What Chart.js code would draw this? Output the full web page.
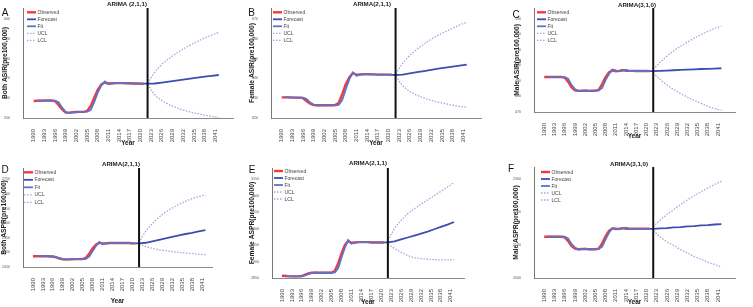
<!DOCTYPE html>
<html><head><meta charset="utf-8">
<script src="https://cdn.jsdelivr.net/npm/chart.js@4.4.1/dist/chart.umd.min.js"></script>
<style>
html,body{margin:0;padding:0;background:#fff;}
#wrap{position:relative;width:753px;height:307px;overflow:hidden;background:#fff;}
#wrap canvas{position:absolute;left:0;top:0;}
</style></head><body>
<div id="wrap">
<canvas id="cA" width="753" height="307"></canvas>
<canvas id="cB" width="753" height="307"></canvas>
<canvas id="cC" width="753" height="307"></canvas>
<canvas id="cD" width="753" height="307"></canvas>
<canvas id="cE" width="753" height="307"></canvas>
<canvas id="cF" width="753" height="307"></canvas>
</div>
<script>
// ---------- DATA ----------
const obsYears = [1990,1991,1992,1993,1994,1995,1996,1997,1998,1999,2000,2001,2002,2003,2004,2005,2006,2007,2008,2009,2010,2011,2012,2013,2014,2015,2016,2017,2018,2019,2020,2021];
const fitYears = [1991,1992,1993,1994,1995,1996,1997,1998,1999,2000,2001,2002,2003,2004,2005,2006,2007,2008,2009,2010,2011,2012,2013,2014,2015,2016,2017,2018,2019,2020,2021];
const fcYears = [2021,2022,2024,2026,2028,2030,2032,2034,2036,2038,2040,2042];
const bandYears = [2022,2024,2026,2028,2030,2032,2034,2036,2038,2040,2042];
const xTickYears = [1990,1993,1996,1999,2002,2005,2008,2011,2014,2017,2020,2023,2026,2029,2032,2035,2038,2041];
const splitYear = 2022;

// A: Both ASIR
const aTicks = [550,560,570,580,590,600];
const aObserved = [558.6,558.7,558.7,558.8,558.8,558.8,558.5,556.6,554.3,552.8,552.7,552.9,553.0,553.1,553.1,553.6,556.0,560.2,564.2,567.0,567.9,567.4,567.5,567.6,567.6,567.6,567.5,567.5,567.4,567.4,567.3,567.3];
const aFit = [558.8,558.7,558.8,558.8,558.8,558.8,558.0,555.2,553.0,552.5,552.8,553.0,553.1,553.1,553.2,554.0,558.0,562.8,566.5,568.4,567.0,567.3,567.6,567.6,567.6,567.5,567.5,567.4,567.4,567.3,567.3];
const aForecast = [567.3,567.3,567.4,567.9,568.4,568.9,569.4,569.9,570.4,570.9,571.3,571.7];
const aUCL = [567.6,573.0,577.0,580.0,582.5,584.8,586.8,588.6,590.3,591.8,593.2];
const aLCL = [567.0,561.8,558.8,556.8,555.3,554.0,553.0,552.2,551.5,550.8,550.2];

// B: Female ASIR
const bTicks = [620,630,640,650,660,670];
const bObserved = [630.4,630.4,630.4,630.3,630.3,630.3,630.0,628.6,627.2,626.5,626.4,626.4,626.4,626.4,626.4,626.5,627.5,632.0,637.0,640.5,642.7,641.8,642.0,642.1,642.1,642.0,642.0,641.9,641.9,641.9,641.9,641.8];
const bFit = [630.5,630.4,630.4,630.3,630.3,630.3,629.6,627.8,626.8,626.3,626.4,626.4,626.4,626.4,626.4,626.6,629.0,634.5,639.5,643.0,641.3,641.8,642.1,642.1,642.0,642.0,641.9,641.9,641.9,641.9,641.8];
const bForecast = [641.8,641.7,641.9,642.5,643.1,643.7,644.3,644.9,645.4,645.9,646.4,646.9];
const bUCL = [642.3,647.5,651.6,654.7,657.3,659.7,661.8,663.6,665.3,666.9,668.4];
const bLCL = [641.1,636.3,633.4,631.5,630.1,628.9,628.0,627.2,626.5,625.9,625.4];

// C: Male ASIR
const cTicks = [470,480,490,500,510,520,530];
const cObserved = [492.5,492.5,492.5,492.5,492.5,492.5,492.2,489.5,486.0,484.0,483.6,483.8,483.7,483.6,483.7,483.8,484.2,488.0,492.5,495.5,496.8,496.3,496.5,497.0,496.5,496.5,496.5,496.4,496.4,496.4,496.4,496.3];
const cFit = [492.6,492.5,492.5,492.5,492.5,492.5,491.5,487.5,484.8,483.5,483.6,483.9,483.7,483.6,483.7,483.9,485.5,490.5,494.5,497.3,496.8,496.2,496.6,497.2,496.4,496.5,496.4,496.4,496.4,496.4,496.3];
const cForecast = [496.3,496.3,496.5,496.7,496.9,497.1,497.3,497.5,497.7,497.8,498.0,498.2];
const cUCL = [497.3,502.0,505.9,509.3,512.3,515.0,517.5,519.8,521.9,523.8,525.4];
const cLCL = [495.3,491.0,487.5,484.5,481.9,479.6,477.5,475.6,473.7,472.2,471.0];

// D: Both ASPR
const dTicks = [2450,2500,2550,2600,2650,2700,2750];
const dObserved = [2487,2487,2487,2487,2487,2486,2486,2483,2479,2476,2476,2476,2477,2477,2477,2477,2482,2496,2514,2526,2533,2531,2531,2532,2532,2532,2532,2532,2532,2532,2531,2531];
const dFit = [2488,2487,2487,2487,2487,2486,2485,2480,2477,2475,2476,2476,2477,2477,2477,2478,2486,2505,2522,2536,2528,2530,2532,2532,2532,2532,2532,2532,2532,2531,2531];
const dForecast = [2531,2531,2533,2538,2543,2548,2553,2558,2563,2567,2572,2576];
const dUCL = [2534,2572,2598,2620,2638,2652,2664,2675,2684,2691,2697];
const dLCL = [2528,2520,2514,2509,2506,2503,2500,2498,2496,2494,2492];

// E: Female ASPR
const eTicks = [2850,2900,2950,3000,3050,3100,3150];
const eObserved = [2857,2856,2855,2855,2855,2855,2856,2860,2864,2866,2866,2866,2866,2866,2866,2866,2872,2895,2925,2950,2962,2957,2958,2959,2959,2959,2959,2958,2958,2958,2958,2958];
const eFit = [2858,2856,2855,2855,2855,2855,2858,2862,2865,2867,2866,2866,2866,2866,2866,2867,2880,2912,2942,2965,2954,2957,2959,2959,2959,2959,2958,2958,2958,2958,2958];
const eForecast = [2958,2958,2961,2967,2973,2979,2985,2991,2998,3005,3012,3020];
const eUCL = [2963,3000,3025,3045,3060,3074,3087,3100,3113,3126,3140];
const eLCL = [2953,2940,2928,2918,2912,2909,2907,2906,2905,2905,2905];

// F: Male ASPR
const fTicks = [2000,2100,2200,2300];
const fObserved = [2125,2125,2125,2125,2125,2125,2123,2112,2097,2089,2087,2088,2088,2087,2087,2087,2089,2105,2126,2143,2150,2148,2149,2151,2149,2149,2149,2149,2149,2149,2149,2149];
const fFit = [2126,2125,2125,2125,2125,2125,2120,2103,2092,2086,2087,2089,2087,2087,2087,2088,2095,2117,2137,2151,2150,2147,2150,2152,2149,2149,2149,2149,2149,2149,2149];
const fForecast = [2149,2149,2150,2151,2153,2154,2156,2157,2159,2160,2162,2163];
const fUCL = [2155,2175,2192,2207,2222,2236,2249,2261,2272,2283,2293];
const fLCL = [2143,2125,2110,2099,2086,2076,2065,2057,2048,2041,2033];

// ---------- STYLE / LAYOUT ----------
const FONT = "'Liberation Sans', Arial, sans-serif";
const C_OBS = '#f23a3a', C_FC = '#3b4fb3', C_FIT = '#5a74cc', C_CL = '#b99be0';

const panels = [
  {id:'cA', letter:'A', title:'ARIMA (2,1,1)', ytitle:'Both ASIR(pre100,000)', obs:aObserved, fit:aFit, fc:aForecast, ucl:aUCL, lcl:aLCL, yticks:aTicks,
   ymin:550, ymax:605.5, xmax:2046, L:23, R:233, T:8, B:118, yTitleX:5, xH:28.9, titleX:127, titleY:4.5, letterX:5, letterY:13, legX:27, legY:12.3, legDy:7},
  {id:'cB', letter:'B', title:'ARIMA(2,1,1)', ytitle:'Female ASIR(pre100,000)', obs:bObserved, fit:bFit, fc:bForecast, ucl:bUCL, lcl:bLCL, yticks:bTicks,
   ymin:620, ymax:675.5, xmax:2046, L:271, R:481, T:8, B:118, yTitleX:252, xH:29.2, titleX:372, titleY:4.5, letterX:251.5, letterY:13, legX:273, legY:12.3, legDy:7},
  {id:'cC', letter:'C', title:'ARIMA(3,1,0)', ytitle:'Male ASIR(pre100,000)', obs:cObserved, fit:cFit, fc:cForecast, ucl:cUCL, lcl:cLCL, yticks:cTicks,
   ymin:470, ymax:537, xmax:2046, L:534, R:735, T:8, B:112, yTitleX:517, xH:28.6, titleX:637, titleY:5, letterX:516, letterY:15, legX:537, legY:12.3, legDy:7},
  {id:'cD', letter:'D', title:'ARIMA(2,1,1)', ytitle:'Both ASPR(pre100,000)', obs:dObserved, fit:dFit, fc:dForecast, ucl:dUCL, lcl:dLCL, yticks:dTicks,
   ymin:2450, ymax:2789, xmax:2044, L:23, R:212, T:168, B:267, yTitleX:4.5, xH:37.9, titleX:121, titleY:164, letterX:5, letterY:170, legX:24, legY:172.3, legDy:7.5},
  {id:'cE', letter:'E', title:'ARIMA(2,1,1)', ytitle:'Female ASPR(pre100,000)', obs:eObserved, fit:eFit, fc:eForecast, ucl:eUCL, lcl:eLCL, yticks:eTicks,
   ymin:2850, ymax:3184, xmax:2045, L:272, R:464, T:168, B:278, yTitleX:252, xH:28.6, titleX:368, titleY:163.5, letterX:252, letterY:170, legX:274, legY:171, legDy:7},
  {id:'cF', letter:'F', title:'ARIMA(3,1,0)', ytitle:'Male ASPR(pre100,000)', obs:fObserved, fit:fFit, fc:fForecast, ucl:fUCL, lcl:fLCL, yticks:fTicks,
   ymin:2000, ymax:2336, xmax:2046, L:534, R:735, T:167, B:278, yTitleX:516, xH:28.6, titleX:629, titleY:164, letterX:511, letterY:169, legX:541, legY:172, legDy:7}
];

function toXY(xs, ys){ return xs.map((x,i)=>({x:x, y:ys[i]})); }

function decor(p){
  return {
    id:'decor',
    afterDatasetsDraw(chart){
      const ctx = chart.ctx, ca = chart.chartArea, xs = chart.scales.x;
      ctx.save();
      const vx = xs.getPixelForValue(splitYear);
      ctx.strokeStyle = '#111'; ctx.lineWidth = 2; ctx.setLineDash([]);
      ctx.beginPath(); ctx.moveTo(vx, ca.top); ctx.lineTo(vx, ca.bottom); ctx.stroke();
      ctx.textAlign = 'center'; ctx.textBaseline = 'middle';
      ctx.fillStyle = '#222'; ctx.font = 'bold 6.2px ' + FONT;
      ctx.fillText(p.title, p.titleX, p.titleY);
      ctx.fillStyle = '#111'; ctx.font = '10px ' + FONT;
      ctx.fillText(p.letter, p.letterX, p.letterY);
      // legend
      const order = ['Observed','Forecast','Fit','UCL','LCL'];
      ctx.textAlign = 'left'; ctx.font = '5px ' + FONT;
      order.forEach((lab, i) => {
        const ds = chart.data.datasets.find(d => d.label === lab);
        const y = p.legY + i * p.legDy;
        ctx.strokeStyle = ds.borderColor; ctx.lineWidth = ds.borderWidth;
        ctx.setLineDash(ds.borderDash || []);
        ctx.beginPath(); ctx.moveTo(p.legX, y); ctx.lineTo(p.legX + 9, y); ctx.stroke();
        ctx.fillStyle = '#444';
        ctx.fillText(lab, p.legX + 10.5, y + 0.3);
      });
      ctx.restore();
    }
  };
}

function makePanel(p){
  const cv = document.getElementById(p.id);
  const yW = p.L - (p.yTitleX - 4.02);
  new Chart(cv, {
    type:'line',
    data:{datasets:[
      {label:'Fit', data:toXY(fitYears,p.fit), borderColor:C_FIT, borderWidth:1.8, order:1},
      {label:'Forecast', data:toXY(fcYears,p.fc), borderColor:C_FC, borderWidth:1.8, order:2},
      {label:'Observed', data:toXY(obsYears,p.obs), borderColor:C_OBS, borderWidth:2.4, order:3},
      {label:'UCL', data:toXY(bandYears,p.ucl), borderColor:C_CL, borderWidth:1.3, borderDash:[1.5,1.5], tension:0.35, order:4},
      {label:'LCL', data:toXY(bandYears,p.lcl), borderColor:C_CL, borderWidth:1.3, borderDash:[1.5,1.5], tension:0.35, order:5}
    ]},
    options:{
      responsive:false, animation:false, devicePixelRatio:1,
      layout:{padding:{left:p.yTitleX - 4.02, right:753 - p.R, top:p.T, bottom:307 - p.B - p.xH}},
      elements:{point:{radius:0, hoverRadius:0}, line:{tension:0, fill:false, borderCapStyle:'butt'}},
      plugins:{legend:{display:false}, tooltip:{enabled:false}, title:{display:false}},
      scales:{
        x:{type:'linear', min:1987, max:p.xmax, grid:{display:false}, border:{display:true, color:'#8a8a8a', width:1},
           afterBuildTicks:(s)=>{ s.ticks = xTickYears.map(v=>({value:v})); },
           afterFit:(s)=>{ s.height = p.xH; },
           ticks:{autoSkip:false, minRotation:90, maxRotation:90, padding:3, color:'#444', font:{family:FONT, size:6}, callback:(v)=>String(v)},
           title:{display:true, text:'Year', color:'#222', font:{family:FONT, size:6.5, weight:'bold', lineHeight:1.2}, padding:{top:0, bottom:0}}},
        y:{min:p.ymin, max:p.ymax, grid:{display:false}, border:{display:true, color:'#777', width:1},
           afterBuildTicks:(s)=>{ s.ticks = p.yticks.map(v=>({value:v})); },
           afterFit:(s)=>{ s.width = yW; },
           ticks:{autoSkip:false, padding:5, color:'#555', font:{family:FONT, size:3.6}, callback:(v)=>String(v)},
           title:{display:true, text:p.ytitle, color:'#222', font:{family:FONT, size:6.7, weight:'bold', lineHeight:1.2}, padding:{top:0, bottom:0}}}
      }
    },
    plugins:[decor(p)]
  });
}
panels.forEach(makePanel);
</script>
</body></html>
